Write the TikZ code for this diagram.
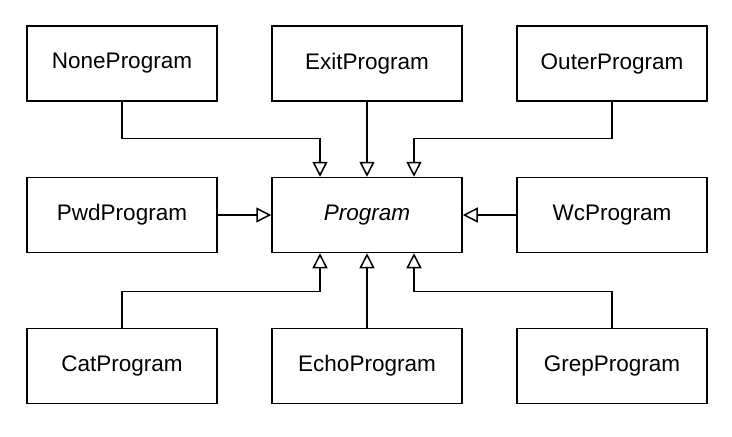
\documentclass[tikz,border=0pt]{standalone}
\usepackage{fontspec}
\setmainfont{Liberation Sans}
\usepackage {tikz}
\usetikzlibrary {positioning}
\usetikzlibrary{arrows.meta}

\tikzset{
	cls/.style={draw, line width=0.75pt, minimum width=95pt, minimum height=37.5pt, inner sep=0pt, font=\fontsize{11.25}{13.5}\selectfont},
	inherit/.style={-{Triangle[open,length=7.5pt,width=7.5pt]}, line width=0.75pt, line join=miter},
}

\begin{document}
\begin{tikzpicture}[x=0.5pt,y=-0.5pt]
	\useasboundingbox (0,0) rectangle (732,436);
	\path (367,215) node[cls] (Program) {\itshape Program}
	+ (-245,-151.5) node[cls] (None) {NoneProgram}
	+ (0,-151.5) node[cls] (Exit) {ExitProgram}
	+ (245,-151.5) node[cls] (Outer) {OuterProgram}
	+ (-245,0) node[cls] (Pwd) {PwdProgram}
	+ (245,0) node[cls] (Wc) {WcProgram}
	+ (-245,151) node[cls] (Cat) {CatProgram}
	+ (0,151) node[cls] (Echo) {EchoProgram}
	+ (245,151) node[cls] (Grep) {GrepProgram};
	\path (Program.north) +(-47,0) coordinate (topL) +(47,0) coordinate (topR)
	+(-47,-38.5) coordinate (bendL) +(47,-38.5) coordinate (bendR);
	\path (Program.south) +(-47,0) coordinate (botL) +(47,0) coordinate (botR)
	+(-47,38) coordinate (bendBL) +(47,38) coordinate (bendBR);
	\draw[inherit] (None.south) |- (bendL) -- (topL);
	\draw[inherit] (Exit) -- (Program);
	\draw[inherit] (Outer.south) |- (bendR) -- (topR);
	\draw[inherit] (Pwd) -- (Program);
	\draw[inherit] (Wc) -- (Program);
	\draw[inherit] (Cat.north) |- (bendBL) -- (botL);
	\draw[inherit] (Echo) -- (Program);
	\draw[inherit] (Grep.north) |- (bendBR) -- (botR);
\end{tikzpicture}
\end{document}
